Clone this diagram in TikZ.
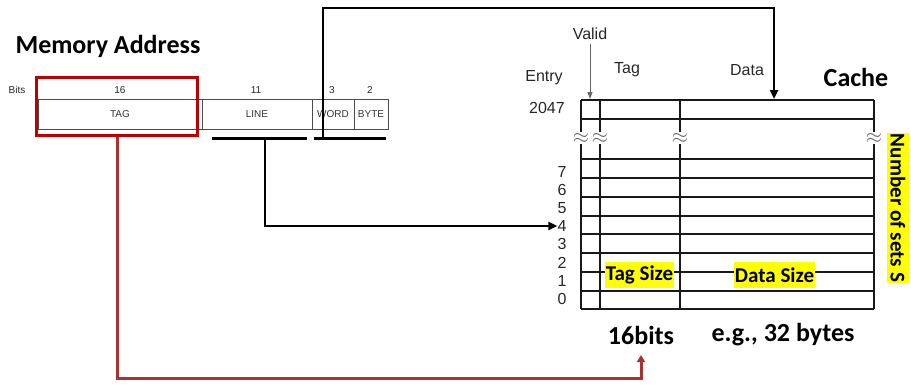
\documentclass[tikz,border=0pt]{standalone}
\usepackage{fontspec}
\setmainfont{Liberation Sans}
\newfontfamily\calib{Carlito}
\usetikzlibrary{arrows.meta}
\definecolor{selred}{HTML}{C00000}
\definecolor{linkred}{HTML}{A83232}
\definecolor{hilite}{HTML}{FFFF00}
\tikzset{
  field/.style={draw=black!70,line width=0.9pt,minimum height=30pt,inner sep=0pt,font=\fontsize{10}{11}\selectfont,text=black!80},
  small/.style={font=\fontsize{10}{11}\selectfont,text=black!85,inner sep=0pt},
  lbl/.style={font=\fontsize{16}{18}\selectfont,text=black!85,inner sep=0pt},
  big/.style={font=\calib\bfseries\fontsize{26}{28}\selectfont,inner sep=0pt},
  hl/.style={font=\calib\bfseries\fontsize{21}{23}\selectfont,fill=hilite,inner sep=1pt},
  conn/.style={line width=2.8pt,black},
  bar/.style={line width=3pt,black},
  gridln/.style={line width=1.6pt,black!90},
  wave/.style={fill=white,inner sep=0.5pt,font=\fontsize{20}{20}\selectfont,text=black!60},
}
\begin{document}
\begin{tikzpicture}[x=1pt,y=-1pt]
\useasboundingbox (0,0) rectangle (911,384);
% memory address
\node[big] (memtitle) at (108,46) {Memory Address};
\node[small] (bits) at (17,90) {Bits};
\node[small] (n16) at (120,90) {16};
\node[small] (n11) at (256,90) {11};
\node[small] (n3) at (332,90) {3};
\node[small] (n2) at (370,90) {2};
\node[field,minimum width=164pt] (tag) at (120,114) {TAG};
\node[field,minimum width=110pt] (line) at (257,114) {LINE};
\node[field,minimum width=42pt] (word) at (333,114) {WORD};
\node[field,minimum width=34pt] (byte) at (371,114) {BYTE};
\node[draw=selred,line width=3pt,minimum width=161pt,minimum height=58pt,inner sep=0pt] (tagsel) at (117,106.5) {};
% underline bars
\coordinate (lbl1) at (212,138);
\coordinate (lbr1) at (307,138);
\coordinate (lbl2) at (314,138);
\coordinate (lbr2) at (386,138);
\draw[bar] (lbl1) -- (lbr1);
\draw[bar] (lbl2) -- (lbr2);
\coordinate (linetap) at (265,138);
\coordinate (wordtap) at (323,139);
% cache table
\foreach \yy in {100,119,159,178,197,216,234,253,272,291,309}
  \draw[gridln] (581,\yy) -- (874,\yy);
\foreach \xx in {581,600,680,874}
  \draw[gridln] (\xx,100) -- (\xx,309);
\foreach \xx/\nm in {581/wa,600/wb,680/wc,874/wd}
  \node[wave] (\nm) at (\xx,138) {$\approx$};
\coordinate (datatop) at (774,99);
% cache labels
\node[lbl] (valid) at (590,34) {Valid};
\node[lbl] (entry) at (544,78) {Entry};
\node[lbl] (tagh) at (627,70) {Tag};
\node[lbl] (datah) at (747,70) {Data};
\node[big] (cache) at (856,77) {Cache};
\node[lbl] (e2047) at (547,108) {2047};
\foreach \d/\yy in {7/172,6/190,5/208,4/226,3/244,2/263,1/281,0/299}
  \node[lbl] (r\d) at (562,\yy) {\d};
\coordinate (validtip) at (590,99);
\draw[black!60,line width=1pt,-{Triangle[length=7pt,width=5pt]}] (valid.south) ++(0,4) -- (validtip);
% highlights
\node[hl,minimum width=69pt,minimum height=26pt] (tagsize) at (639.5,275) {Tag Size};
\node[hl,minimum width=81pt,minimum height=26pt] (datasize) at (774.5,275) {Data Size};
\node[hl,rotate=-90,minimum height=22pt,minimum width=150pt,anchor=center] (nsets) at (898,208) {Number of sets S};
\node[big] (bits16) at (641,335) {16bits};
\node[big] (eg) at (783,335) {e.g., 32 bytes};
\coordinate (bitstip) at (641,355);
% connectors
\draw[conn,-{Triangle[length=9pt,width=8pt]}] (linetap) |- (r4.west);
\draw[conn,-{Triangle[length=9pt,width=8pt]}] (wordtap) -- (323,8) -| (datatop);
\draw[linkred,line width=3pt,-{Triangle[length=7pt,width=8pt]}] (tagsel.south) -- (117,378) -| (bitstip);
\end{tikzpicture}
\end{document}
